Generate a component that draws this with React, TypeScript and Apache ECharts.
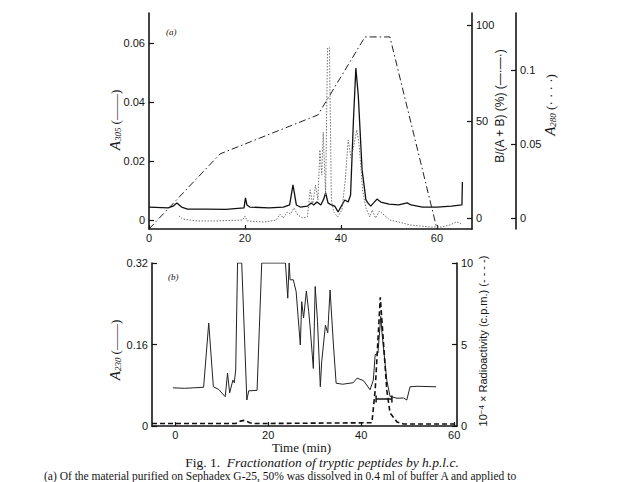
import React, { useEffect, useRef } from "react";
import * as echarts from "echarts";

// ---- Panel (a): times (min) and values ----
const A305_TIME = [0, 4, 5, 5.8, 6.8, 8, 12, 16, 19.8, 20.1, 20.4, 21, 25, 28, 29.3, 30, 30.7, 31.5, 33, 33.8, 34.3, 35, 35.8, 36.4, 36.8, 37.3, 38, 38.7, 39.4, 40.2, 40.8, 41.5, 42, 42.6, 43.1, 43.6, 44.4, 45.2, 45.6, 46.2, 46.8, 47.5, 48.3, 50, 52, 53.8, 54.6, 57, 60, 63, 65.2, 65.3];
const A305_VALUE = [0.0044, 0.0041, 0.0047, 0.0058, 0.0044, 0.0037, 0.0037, 0.0036, 0.0041, 0.0075, 0.0051, 0.0044, 0.0041, 0.0044, 0.0051, 0.0119, 0.0051, 0.0044, 0.0047, 0.0058, 0.0051, 0.0061, 0.0051, 0.0071, 0.0092, 0.0058, 0.0051, 0.0047, 0.0027, 0.0051, 0.0068, 0.0061, 0.0085, 0.034, 0.0515, 0.0424, 0.017, 0.0068, 0.0058, 0.0047, 0.0058, 0.0071, 0.0061, 0.0054, 0.0051, 0.0058, 0.0051, 0.0044, 0.0044, 0.0047, 0.0051, 0.0129];

const A280_TIME = [6.2, 7, 10, 14, 19.5, 20, 20.5, 24, 26.5, 27.3, 28, 28.8, 29.5, 30.2, 31, 32, 33, 33.6, 34.1, 34.7, 35.2, 35.6, 36, 36.3, 36.8, 37.2, 37.6, 38, 38.5, 39.3, 40.2, 40.9, 41.5, 42.1, 42.5, 43.3, 43.8, 44.5, 45.2, 46, 46.5, 47.2, 48, 49, 50.2, 52, 54.4, 58.5, 61, 62.7, 64, 64.8, 65.3];
const A280_VALUE = [0.0014, -0.0007, -0.002, -0.002, -0.0014, 0.0014, -0.002, -0.0027, -0.0014, 0.0027, 0, 0.004, 0.0027, 0.0068, 0.002, 0, 0.0007, 0.019, 0.0088, 0.0223, 0.0122, 0.046, 0.029, 0.058, 0.0155, 0.115, 0.115, 0.0122, 0.004, 0.0007, 0.0054, 0.0257, 0.0527, 0.0405, 0.046, 0.0595, 0.049, 0.019, 0.0068, 0.0007, 0.0054, 0, 0.0047, 0.002, -0.0014, -0.0027, -0.0047, -0.0061, -0.0061, -0.0047, -0.0027, -0.0034, -0.0047];

const GRADIENT_TIME = [0, 14.8, 35.2, 45, 50.2, 60];
const GRADIENT_PERCENT = [-5.7, 33.2, 53.4, 93.8, 93.8, -5.7];

// ---- Panel (b) ----
const A230_TIME = [-0.5, 2, 4, 6.1, 7.2, 8.2, 9.3, 10.75, 11.25, 11.7, 12.4, 12.7, 13, 13.4, 14.3, 15.4, 15.8, 17.6, 18.6, 23.7, 24.2, 24.5, 24.7, 25.4, 26, 26.9, 27.2, 27.6, 28.2, 28.7, 29, 29.7, 30.1, 30.6, 31.2, 31.5, 32.3, 32.8, 33.3, 34, 34.6, 36, 38.3, 39.1, 40.5, 41.9, 42.6, 43, 43.6, 44.2, 44.5, 45.5, 46.2, 47.7, 49.1, 49.8, 50.5, 52, 56.1];
const A230_VALUE = [0.075, 0.074, 0.075, 0.076, 0.202, 0.077, 0.072, 0.0575, 0.104, 0.065, 0.09, 0.085, 0.11, 0.32, 0.32, 0.051, 0.069, 0.07, 0.32, 0.32, 0.251, 0.32, 0.287, 0.287, 0.264, 0.159, 0.244, 0.212, 0.265, 0.225, 0.195, 0.113, 0.274, 0.205, 0.077, 0.126, 0.198, 0.183, 0.267, 0.163, 0.084, 0.082, 0.085, 0.094, 0.089, 0.071, 0.09, 0.14, 0.143, 0.215, 0.18, 0.09, 0.058, 0.0545, 0.055, 0.051, 0.077, 0.078, 0.077];

const RADIO_TIME = [-5, 13, 14, 15, 16, 17, 42.3, 43, 44.1, 45.5, 46.2, 47.7, 49.1, 60.6];
const RADIO_VALUE = [0.15, 0.15, 0.3, 0.35, 0.2, 0.15, 0.2, 2.2, 7.9, 2.2, 0.8, 0.25, 0.12, 0.12];

const POOL_TIME = [43.2, 46.6];
const POOL_LEVEL = [0.053, 0.053];

// ---- Tick labels ----
const TIME_TICKS = [0, 20, 40, 60];
const A305_TICKS = [0, 0.02, 0.04, 0.06];
const B_TICKS = [0, 50, 100];
const A280_TICKS = [0, 0.05, 0.1];
const A230_TICKS = [0, 0.16, 0.32];
const RADIO_TICKS = [0, 5, 10];

const zip = (xs: number[], ys: number[]) => xs.map((x, i) => [x, ys[i]]);

const SANS = "Liberation Sans";
const SERIF = "Liberation Serif";
const INK = "#151515";

const axisLine = { onZero: false, lineStyle: { color: INK, width: 1.6 } };
const labelStyle = { fontFamily: SANS, fontSize: 11, color: INK };

function yAxis(gridIndex: number, position: string, min: number, max: number, ticks: number[], offset = 0) {
  return {
    type: "value",
    gridIndex,
    position,
    offset,
    min,
    max,
    axisLine,
    splitLine: { show: false },
    axisTick: { show: true, inside: true, length: 5, customValues: ticks, lineStyle: { color: INK, width: 1.2 } },
    axisLabel: { ...labelStyle, margin: 4, customValues: ticks, formatter: (v: number) => String(v) },
  };
}

function xAxis(gridIndex: number, min: number, max: number, extra: any = {}) {
  return {
    type: "value",
    gridIndex,
    min,
    max,
    axisLine,
    splitLine: { show: false },
    axisTick: { show: true, inside: true, length: 4, customValues: TIME_TICKS, lineStyle: { color: INK, width: 1.2 } },
    axisLabel: { ...labelStyle, margin: 3, customValues: TIME_TICKS, formatter: (v: number) => String(v) },
    ...extra,
  };
}

const subRich = {
  a: { font: `italic 15px ${SERIF}`, fontFamily: SERIF, fontStyle: "italic", fontSize: 15, fill: INK, lineHeight: 15 },
  s: { font: `italic 9px ${SERIF}`, fontFamily: SERIF, fontStyle: "italic", fontSize: 9, fill: INK, lineHeight: 9, padding: [6, 0, 0, 0], verticalAlign: "bottom" },
  t: { font: `13px ${SERIF}`, fontFamily: SERIF, fontSize: 13, fill: INK, lineHeight: 15 },
};

function rotName(text: string, x: number, y: number, extra: any = {}) {
  return {
    type: "text",
    x,
    y,
    rotation: Math.PI / 2,
    style: { text, textAlign: "center", textVerticalAlign: "middle", verticalAlign: "middle", fill: INK, ...extra },
  };
}

export default function App() {
  const ref = useRef<HTMLDivElement>(null);
  useEffect(() => {
    if (!ref.current) return;
    const chart = echarts.init(ref.current, undefined, { renderer: "svg" });
    const option: any = {
      animation: false,
      backgroundColor: "#ffffff",
      grid: [
        { left: 149, top: 13, width: 323, height: 216 },
        { left: 152, top: 263, width: 305, height: 163 },
      ],
      xAxis: [
        xAxis(0, 0, 67.3),
        xAxis(1, -5, 60.6, {
          name: "Time (min)",
          nameLocation: "middle",
          nameGap: 14,
          nameTextStyle: { fontFamily: SERIF, fontSize: 13, lineHeight: 13, color: INK, padding: [0, 6, 0, 0] },
        }),
      ],
      yAxis: [
        yAxis(0, "left", -0.00305, 0.0702, A305_TICKS),
        yAxis(0, "right", -5.7, 106.2, B_TICKS),
        yAxis(0, "right", -0.00743, 0.1385, A280_TICKS, 44),
        yAxis(1, "left", 0, 0.32, A230_TICKS),
        yAxis(1, "right", 0, 10, RADIO_TICKS),
      ],
      series: [
        {
          name: "A305",
          type: "line",
          xAxisIndex: 0,
          yAxisIndex: 0,
          data: zip(A305_TIME, A305_VALUE),
          showSymbol: false,
          lineStyle: { color: "#111", width: 1.3 },
        },
        {
          name: "A280",
          type: "line",
          xAxisIndex: 0,
          yAxisIndex: 2,
          data: zip(A280_TIME, A280_VALUE),
          showSymbol: false,
          lineStyle: { color: "#6f6f6f", width: 1, type: [1.5, 1.5] },
        },
        {
          name: "B/(A+B)",
          type: "line",
          xAxisIndex: 0,
          yAxisIndex: 1,
          data: zip(GRADIENT_TIME, GRADIENT_PERCENT),
          showSymbol: false,
          lineStyle: { color: "#222", width: 1, type: [7, 3, 1.5, 3] },
        },
        {
          name: "A230",
          type: "line",
          xAxisIndex: 1,
          yAxisIndex: 3,
          data: zip(A230_TIME, A230_VALUE),
          showSymbol: false,
          lineStyle: { color: "#222", width: 1 },
        },
        {
          name: "Radioactivity",
          type: "line",
          xAxisIndex: 1,
          yAxisIndex: 4,
          data: zip(RADIO_TIME, RADIO_VALUE),
          showSymbol: false,
          lineStyle: { color: "#111", width: 1.6, type: [5, 3] },
        },
        {
          name: "Pooled",
          type: "line",
          xAxisIndex: 1,
          yAxisIndex: 3,
          data: zip(POOL_TIME, POOL_LEVEL),
          symbol: "rect",
          symbolSize: [1.5, 7],
          itemStyle: { color: "#111" },
          lineStyle: { color: "#111", width: 1.3 },
        },
      ],
      graphic: [
        { type: "text", x: 166, y: 27, style: { text: "(a)", font: `italic 9px ${SERIF}`, fill: INK } },
        { type: "text", x: 168, y: 272, style: { text: "(b)", font: `italic 9px ${SERIF}`, fill: INK } },
        rotName("{a|A}{s|305}{t| (——)}", 115, 120, { rich: subRich }),
        rotName("B/(A + B) (%) (—·—·)", 500, 106, { font: `12px ${SANS}` }),
        rotName("{a|A}{s|280}{t| (· · · ·)}", 550, 105, { rich: subRich }),
        rotName("{a|A}{s|230}{t| (——)}", 115, 350, { rich: subRich }),
        rotName("10{p|−4} × Radioactivity (c.p.m.) (- - - -)", 483, 341, {
          font: `11px ${SANS}`,
          rich: { p: { font: `8px ${SANS}`, fontFamily: SANS, fontSize: 8, fill: INK, lineHeight: 8, padding: [0, 0, 5, 0], verticalAlign: "top" } },
        }),
        {
          type: "text",
          x: 322,
          y: 462.5,
          style: {
            text: "{u|Fig. 1.  }{i|Fractionation of tryptic peptides by h.p.l.c.}",
            textAlign: "center",
            textVerticalAlign: "middle",
            verticalAlign: "middle",
            rich: {
              u: { font: `13.5px ${SERIF}`, fontFamily: SERIF, fontSize: 13.5, fill: INK, lineHeight: 13 },
              i: { font: `italic 13.5px ${SERIF}`, fontFamily: SERIF, fontSize: 13.5, fontStyle: "italic", fill: INK, lineHeight: 13 },
            },
          },
        },
        {
          type: "text",
          x: 44,
          y: 470,
          style: {
            text: "(a) Of the material purified on Sephadex G-25, 50% was dissolved in 0.4 ml of buffer A and applied to",
            font: `11.5px ${SERIF}`,
            fill: INK,
          },
        },
      ],
    };
    chart.setOption(option);
    return () => chart.dispose();
  }, []);
  return (
    <div
      ref={ref}
      style={{ position: "fixed", left: 0, top: 0, width: 621, height: 482, background: "#fff" }}
    />
  );
}
